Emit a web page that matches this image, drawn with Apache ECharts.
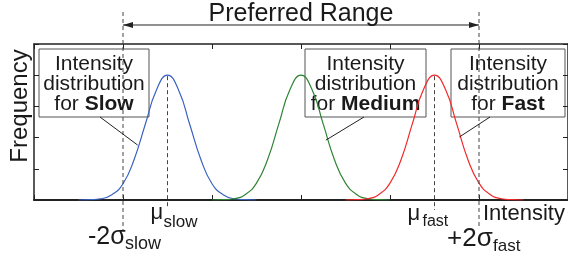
<!DOCTYPE html>
<html>
  <head>
    <meta charset="utf-8">
    <title></title>
    <script src="https://cdn.jsdelivr.net/npm/echarts@6/dist/echarts.min.js"></script>
    <style media="screen">
    html,body{
      height:100%;
      width:100%;
      margin:0px;
      background:#fff;
    }
    #chartDiv{
      width:568px;
      height:257px;
    }
    </style>
  </head>
  <body>
    <div id="chartDiv"></div>
    <script type="text/javascript">
      // readings (x in intensity units, y in frequency units)
      var slowX = [0.5, 0.625, 0.75, 0.875, 1.0, 1.125, 1.25, 1.375, 1.5, 1.625, 1.75, 1.875, 2.0, 2.125, 2.25, 2.375, 2.5];
      var slowY = [0, 0.01, 0.04, 0.17, 0.52, 1.3, 2.42, 3.52, 4.0, 3.52, 2.42, 1.3, 0.52, 0.17, 0.04, 0.01, 0];
      var mediumX = [2.0, 2.125, 2.25, 2.375, 2.5, 2.625, 2.75, 2.875, 3.0, 3.125, 3.25, 3.375, 3.5, 3.625, 3.75, 3.875, 4.0];
      var mediumY = [0, 0.01, 0.04, 0.18, 0.54, 1.3, 2.43, 3.53, 4.0, 3.53, 2.43, 1.3, 0.54, 0.18, 0.04, 0.01, 0];
      var fastX = [3.5, 3.625, 3.75, 3.875, 4.0, 4.125, 4.25, 4.375, 4.5, 4.625, 4.75, 4.875, 5.0, 5.125, 5.25, 5.375, 5.5];
      var fastY = [0, 0.01, 0.04, 0.18, 0.54, 1.3, 2.43, 3.53, 4.0, 3.53, 2.43, 1.3, 0.54, 0.18, 0.04, 0.01, 0];

      var muSlow = 1.5, muFast = 4.5;
      var lowLimit = 1.0, highLimit = 5.0;   // -2 sigma slow, +2 sigma fast

      function pairs(xs, ys){
        return xs.map(function(x, i){ return [x, ys[i]]; });
      }

      var FONT = '"Liberation Sans", Arial, Helvetica, sans-serif';

      function xAx(pos, w){
        return {
          type:'value', min:0, max:6, interval:1, position:pos,
          axisLine:{onZero:false, lineStyle:{color:'#222', width:w}},
          axisTick:{inside:true, length:5, lineStyle:{color:'#222', width:1}},
          axisLabel:{show:false}, splitLine:{show:false}
        };
      }
      function yAx(pos){
        return {
          type:'value', min:0, max:5, interval:1, position:pos,
          axisLine:{show:true, onZero:false, lineStyle:{color:'#222', width:1.5}},
          axisTick:{show:true, inside:true, length:5, lineStyle:{color:'#222', width:1}},
          axisLabel:{show:false}, splitLine:{show:false}
        };
      }
      function curve(name, color, data){
        return {
          name:name, type:'line', data:data, showSymbol:false,
          smooth:true, z:3,
          lineStyle:{color:color, width:1.2}
        };
      }

      var option = {
        animation:false,
        grid:{left:34, right:-2, top:44, bottom:57},
        xAxis:[xAx('bottom', 2), xAx('top', 1.5)],
        yAxis:[yAx('left'), yAx('right')],
        series:[
          curve('Slow', '#3a62c2', pairs(slowX, slowY)),
          curve('Medium', '#2f8434', pairs(mediumX, mediumY)),
          curve('Fast', '#f02a2a', pairs(fastX, fastY))
        ]
      };

      var chart = echarts.init(document.getElementById('chartDiv'));
      chart.setOption(option);

      function px(x, y){ return chart.convertToPixel({gridIndex:0}, [x, y]); }

      var xLow = px(lowLimit, 0)[0], xHigh = px(highLimit, 0)[0];
      var xMuS = px(muSlow, 0)[0], xMuF = px(muFast, 0)[0];
      var peakY = px(muSlow, 4)[1];
      var dash = {stroke:'#444', lineWidth:1, lineDash:[4, 3]};

      function vline(x, y1, y2){
        return {type:'line', shape:{x1:x, y1:y1, x2:x, y2:y2}, style:dash, z:10};
      }
      function txt(s, x, y, size, extra){
        var st = {text:s, x:x, y:y, font:size + 'px ' + FONT, fill:'#1a1a1a', verticalAlign:'middle', align:'left'};
        if (extra) for (var k in extra) st[k] = extra[k];
        return {type:'text', style:st, z:12};
      }
      function box(x, y, w, h, word){
        return {
          type:'group', z:20,
          children:[
            {type:'rect', shape:{x:x, y:y, width:w, height:h}, style:{fill:'#fff', stroke:'#555', lineWidth:1}},
            {type:'text', style:{
              text:'Intensity\ndistribution\nfor {b|' + word + '}',
              x:x + w / 2, y:y + h / 2 + 1, align:'center', verticalAlign:'middle',
              font:'21px ' + FONT, fill:'#1a1a1a', lineHeight:20,
              rich:{b:{fontWeight:'bold', fontSize:21, fontFamily:FONT, lineHeight:20}}
            }}
          ]
        };
      }
      function leader(x0, y0, dx, dy){
        var e = px(dx, dy);
        return {type:'line', shape:{x1:x0, y1:y0, x2:e[0], y2:e[1]}, style:{stroke:'#222', lineWidth:1}, z:15};
      }

      var arrowY = 25;
      var graphics = [
        vline(xLow, 12, 231),
        vline(xHigh, 12, 228),
        vline(xMuS, peakY + 1, 209),
        vline(xMuF, peakY + 1, 210),
        {type:'line', shape:{x1:xLow, y1:arrowY, x2:xHigh, y2:arrowY}, style:{stroke:'#222', lineWidth:1}, z:10},
        {type:'polygon', shape:{points:[[xLow, arrowY], [xLow + 10, arrowY - 3], [xLow + 10, arrowY + 3]]}, style:{fill:'#222'}, z:10},
        {type:'polygon', shape:{points:[[xHigh, arrowY], [xHigh - 10, arrowY - 3], [xHigh - 10, arrowY + 3]]}, style:{fill:'#222'}, z:10},
        txt('Preferred Range', (xLow + xHigh) / 2, 14, 25, {align:'center'}),
        {type:'text', x:20, y:106, rotation:Math.PI / 2,
          style:{text:'Frequency', x:0, y:0, font:'24px ' + FONT, fill:'#1a1a1a', align:'center', verticalAlign:'middle'}, z:12},
        txt('Intensity', 483, 214, 22),
        txt('\u03bc', xMuS - 17, 213, 22),
        txt('slow', xMuS - 4, 222, 17),
        txt('-2\u03c3', xLow - 35, 237, 25),
        txt('slow', xLow + 2, 244, 18),
        txt('\u03bc', xMuF - 27, 214, 22),
        txt('fast', xMuF - 12, 222, 16),
        txt('+2\u03c3', xHigh - 32, 239, 26),
        txt('fast', xHigh + 14, 246, 17),
        leader(100, 117, 1.165, 1.76),
        leader(364, 117, 3.28, 1.92),
        leader(490, 117, 4.78, 2.02),
        box(39, 49, 110, 68, 'Slow'),
        box(305, 49, 121, 68, 'Medium'),
        box(451, 49, 114, 68, 'Fast')
      ];
      chart.setOption({graphic:graphics});
    </script>
  </body>
</html>
